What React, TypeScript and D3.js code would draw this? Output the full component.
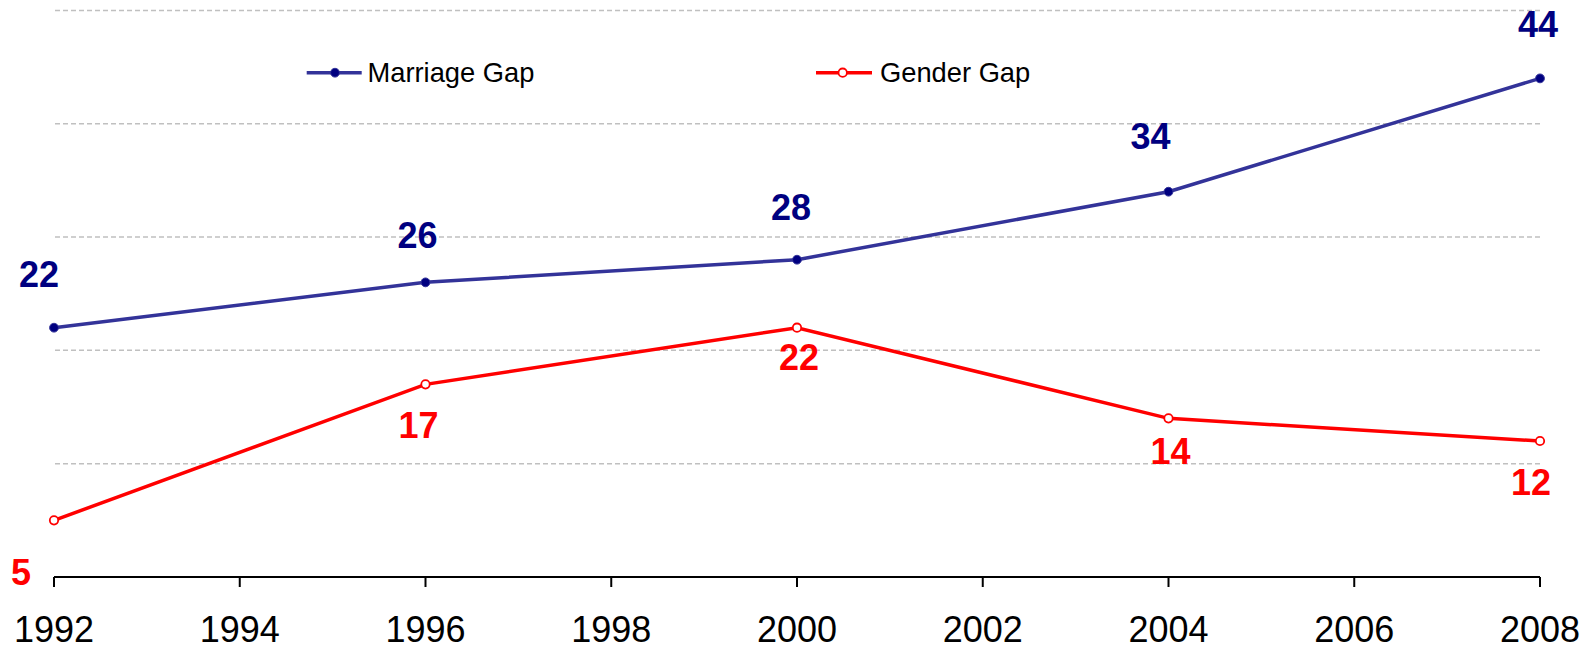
import React from "react";
import * as d3 from "d3";

const years = [1992, 1996, 2000, 2004, 2008];
const marriageGap = [22, 26, 28, 34, 44];
const genderGap = [5, 17, 22, 14, 12];
const xTicks = [1992, 1994, 1996, 1998, 2000, 2002, 2004, 2006, 2008];
const gridValues = [10, 20, 30, 40, 50];
const seriesNames = ["Marriage Gap", "Gender Gap"];

// label offsets (layout)
const marriageLabelOffsets = [[-15, -41], [-8, -34], [-6, -40], [-18, -43], [-2, -41]];
const genderLabelOffsets = [[-33, 65], [-7, 54], [2, 42], [2, 46], [-9, 54]];

const W = 1593;
const H = 650;
const FONT = "Liberation Sans, Arial, Helvetica, sans-serif";

export default function App() {
  const x = d3.scaleLinear().domain([1992, 2008]).range([54, 1540]);
  const y = d3.scaleLinear().domain([0, 50]).range([577, 10.4]);
  const line = d3
    .line<number>()
    .x((_, i) => x(years[i]))
    .y((d) => y(d));

  const navyLine = "#333399";
  const navy = "#000080";
  const red = "#FF0000";

  return (
    <svg
      width={W}
      height={H}
      style={{ position: "absolute", left: 0, top: 0, background: "#fff" }}
      fontFamily={FONT}
    >
      {/* gridlines */}
      {gridValues.map((v) => (
        <line
          key={v}
          x1={55}
          x2={1540}
          y1={y(v)}
          y2={y(v)}
          stroke="#C0C0C0"
          strokeWidth={1.5}
          strokeDasharray="5,3"
        />
      ))}

      {/* x axis */}
      <line x1={x(1992)} x2={x(2008)} y1={y(0)} y2={y(0)} stroke="#000" strokeWidth={2} />
      {xTicks.map((t) => (
        <g key={t}>
          <line x1={x(t)} x2={x(t)} y1={y(0)} y2={y(0) + 10} stroke="#000" strokeWidth={2} />
          <text x={x(t)} y={642} textAnchor="middle" fontSize={36} fill="#000">
            {t}
          </text>
        </g>
      ))}

      {/* lines */}
      <path d={line(marriageGap) || ""} fill="none" stroke={navyLine} strokeWidth={3.5} />
      <path d={line(genderGap) || ""} fill="none" stroke={red} strokeWidth={3.5} />

      {/* markers */}
      {marriageGap.map((v, i) => (
        <circle key={"m" + i} cx={x(years[i])} cy={y(v)} r={4.4} fill={navy} stroke={navyLine} strokeWidth={1} />
      ))}
      {genderGap.map((v, i) => (
        <circle key={"g" + i} cx={x(years[i])} cy={y(v)} r={4.2} fill="#fff" stroke={red} strokeWidth={1.8} />
      ))}

      {/* labels */}
      {marriageGap.map((v, i) => (
        <text
          key={"ml" + i}
          x={x(years[i]) + marriageLabelOffsets[i][0]}
          y={y(v) + marriageLabelOffsets[i][1]}
          textAnchor="middle"
          fontSize={36}
          fontWeight="bold"
          fill={navy}
        >
          {v}
        </text>
      ))}
      {genderGap.map((v, i) => (
        <text
          key={"gl" + i}
          x={x(years[i]) + genderLabelOffsets[i][0]}
          y={y(v) + genderLabelOffsets[i][1]}
          textAnchor="middle"
          fontSize={36}
          fontWeight="bold"
          fill={red}
        >
          {v}
        </text>
      ))}

      {/* legend */}
      <g>
        <line x1={306.7} x2={361.7} y1={72.7} y2={72.7} stroke={navyLine} strokeWidth={3.5} />
        <circle cx={335} cy={72.7} r={4.4} fill={navy} stroke={navyLine} strokeWidth={1} />
        <text x={367.5} y={82} fontSize={27.3} fill="#000">
          {seriesNames[0]}
        </text>
        <line x1={816} x2={872} y1={72.7} y2={72.7} stroke={red} strokeWidth={3.5} />
        <circle cx={842.7} cy={72.7} r={4.2} fill="#fff" stroke={red} strokeWidth={1.8} />
        <text x={880} y={82} fontSize={27.3} fill="#000">
          {seriesNames[1]}
        </text>
      </g>
    </svg>
  );
}
